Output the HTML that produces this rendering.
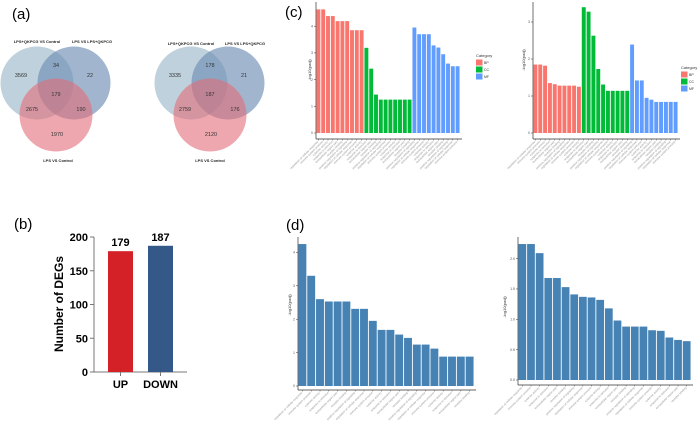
<!DOCTYPE html>
<html><head><meta charset="utf-8"><style>
html,body{margin:0;padding:0;background:#fff;}
svg{display:block;font-family:"Liberation Sans",sans-serif;}
</style></head><body>
<svg id="fig" width="700" height="429" viewBox="0 0 700 429" xmlns="http://www.w3.org/2000/svg">
<text x="12" y="19" font-size="15">(a)</text>
<text x="285" y="17" font-size="15">(c)</text>
<text x="14" y="229" font-size="15">(b)</text>
<text x="286" y="230" font-size="15">(d)</text>

<g>
<circle cx="37" cy="83" r="36.5" fill="#a9c2d2" fill-opacity="0.75"/>
<circle cx="74" cy="83" r="36.5" fill="#6f8fb3" fill-opacity="0.65"/>
<circle cx="56" cy="115" r="36.5" fill="#e36c78" fill-opacity="0.6"/>
<g font-size="4" font-weight="bold" fill="#222" text-anchor="middle">
<text x="37" y="43">LPS+QKPCG VS Control</text><text x="92" y="43">LPS VS LPS+QKPCG</text><text x="58" y="162">LPS VS Control</text></g>
<g font-size="5.5" fill="#333" text-anchor="middle">
<text x="21" y="77">3569</text><text x="56" y="67">34</text><text x="90" y="77">22</text><text x="56" y="96">179</text><text x="32" y="111">2675</text><text x="81" y="111">190</text><text x="57" y="136">1970</text></g>
</g>
<g>
<circle cx="191" cy="83" r="36.5" fill="#a9c2d2" fill-opacity="0.75"/>
<circle cx="228" cy="83" r="36.5" fill="#6f8fb3" fill-opacity="0.65"/>
<circle cx="210" cy="115" r="36.5" fill="#e36c78" fill-opacity="0.6"/>
<g font-size="4" font-weight="bold" fill="#222" text-anchor="middle">
<text x="191" y="45">LPS+QKPCG VS Control</text><text x="245" y="45">LPS VS LPS+QKPCG</text><text x="210" y="162">LPS VS Control</text></g>
<g font-size="5.5" fill="#333" text-anchor="middle">
<text x="175" y="77">3335</text><text x="210" y="67">178</text><text x="244" y="77">21</text><text x="210" y="96">187</text><text x="185" y="111">2759</text><text x="235" y="111">176</text><text x="211" y="136">2120</text></g>
</g>

<g id="panelB"></g>
<g id="panelC1"></g>
<g id="panelC2"></g>
<g id="panelD1"></g>
<g id="panelD2"></g>
</svg>
<script>
const degCategories = ["UP", "DOWN"];
const degValues = [179, 187];
const degTicks = [0, 50, 100, 150, 200];

const goCat = ["BP", "CC", "MF"];
const goLeftBP = [4.63, 4.63, 4.38, 4.38, 4.19, 4.19, 4.19, 3.85, 3.85, 3.85];
const goLeftCC = [3.19, 2.41, 1.44, 1.25, 1.25, 1.25, 1.25, 1.25, 1.25, 1.25];
const goLeftMF = [3.95, 3.7, 3.7, 3.7, 3.28, 3.2, 2.95, 2.6, 2.5, 2.5];
const goLeftTicks = [0, 1, 2, 3, 4];
const goRightBP = [1.85, 1.85, 1.82, 1.35, 1.32, 1.28, 1.28, 1.28, 1.28, 1.25];
const goRightCC = [3.4, 3.28, 2.63, 1.73, 1.31, 1.14, 1.14, 1.14, 1.14, 1.14];
const goRightMF = [2.39, 1.42, 1.42, 0.95, 0.9, 0.84, 0.84, 0.84, 0.84, 0.84];
const goRightTicks = [0, 1, 2, 3];

const keggLeft = [4.25, 3.3, 2.6, 2.53, 2.53, 2.53, 2.31, 2.31, 1.95, 1.68, 1.68, 1.54, 1.44, 1.24, 1.24, 1.12, 0.88, 0.88, 0.88, 0.88];
const keggLeftTicks = [0, 1, 2, 3, 4];
const keggRight = [2.24, 2.24, 2.09, 1.68, 1.68, 1.53, 1.41, 1.37, 1.36, 1.32, 1.18, 0.98, 0.88, 0.88, 0.88, 0.82, 0.81, 0.70, 0.66, 0.64];
const keggRightTicks = [0, 0.5, 1, 1.5, 2];

const NS = "http://www.w3.org/2000/svg";
function mk(parent, tag, attrs, text) {
  const e = document.createElementNS(NS, tag);
  for (const k in attrs) e.setAttribute(k, attrs[k]);
  if (text !== undefined) e.textContent = text;
  parent.appendChild(e);
  return e;
}

(function () {
  const g = document.getElementById("panelB");
  const x0 = 94, y0 = 372, yTop = 237, vmax = 200;
  const ys = v => y0 - (v / vmax) * (y0 - yTop);
  const ax = mk(g, "line", { x1: x0, y1: ys(200), x2: x0, y2: y0, stroke: "#777", "stroke-width": 1 });
  
  
  const xa = mk(g, "line", { x1: x0, y1: y0, x2: 187, y2: y0, stroke: "#777", "stroke-width": 1 });
  
  
  degTicks.forEach(t => {
    mk(g, "line", { x1: x0 - 4, y1: ys(t), x2: x0, y2: ys(t), stroke: "#777", "stroke-width": 1 });
    const tl = mk(g, "text", { x: x0 - 6, y: ys(t) + 4, "font-size": 11, "font-weight": "bold", "text-anchor": "end" }, t);
    
    
  });
  const colors = ["#d42027", "#345989"];
  const bw = 25, step = 40, first = 108;
  degValues.forEach((v, i) => {
    const x = first + i * step;
    const r = mk(g, "rect", { x: x, y: ys(v), width: bw, height: y0 - ys(v), fill: colors[i] });
    
    
    const vl = mk(g, "text", { x: x + bw / 2, y: ys(v) - 5, "font-size": 11, "font-weight": "bold", "text-anchor": "middle" }, v);
    
    
    mk(g, "line", { x1: x + bw / 2, y1: y0, x2: x + bw / 2, y2: y0 + 4, stroke: "#777", "stroke-width": 1 });
    const cl = mk(g, "text", { x: x + bw / 2, y: y0 + 16, "font-size": 11, "font-weight": "bold", "text-anchor": "middle" }, degCategories[i]);
    
    
  });
  const yt = mk(g, "text", { x: 0, y: 0, "font-size": 12, "font-weight": "bold", "text-anchor": "middle", transform: "translate(63,304) rotate(-90)" }, "Number  of DEGs");
  
  
})();

const termWords = ["regulation of cellular response", "immune system process", "cytokine activity", "response to stimulus", "extracellular region part", "receptor binding", "positive regulation of signaling"];

function ggBars(g, cfg) {
  const { x0, x1, y0, ppu, values, colors, ticks, axisY, top, titleX, titleY, tickFmt } = cfg;
  const n = values.length, bw = (x1 - x0) / n;
  const ys = v => y0 - v * ppu;
  const ya = mk(g, "line", { x1: x0, y1: top, x2: x0, y2: axisY, stroke: "#333", "stroke-width": 0.7 });
  
  
  const xa = mk(g, "line", { x1: x0, y1: axisY, x2: x1 + 2, y2: axisY, stroke: "#333", "stroke-width": 0.7 });
  
  
  ticks.forEach(t => {
    mk(g, "line", { x1: x0 - 2, y1: ys(t), x2: x0, y2: ys(t), stroke: "#333", "stroke-width": 0.5 });
    const tl = mk(g, "text", { x: x0 - 3, y: ys(t) + 1.2, "font-size": 3.5, fill: "#555", "text-anchor": "end" }, tickFmt ? t.toFixed(1) : t);
    
    
  });
  values.forEach((v, i) => {
    const x = x0 + i * bw;
    const r = mk(g, "rect", { x: x + 0.45, y: ys(v), width: bw - 0.9, height: v * ppu, fill: colors[i] });
    
    
    const cx = x + bw / 2;
    mk(g, "line", { x1: cx, y1: axisY, x2: cx, y2: axisY + 1.5, stroke: "#333", "stroke-width": 0.4 });
    const lab = mk(g, "text", { x: 0, y: 0, "font-size": 2.9, fill: "#999", "text-anchor": "end", transform: `translate(${cx},${axisY + 3}) rotate(-45)` }, termWords[i % termWords.length]);
    
    
  });
  const yt = mk(g, "text", { x: 0, y: 0, "font-size": 4, fill: "#333", "text-anchor": "middle", transform: `translate(${titleX},${titleY}) rotate(-90)` }, "-log10(padj)");
  
  
}

function legend(g, x, y) {
  const cols = ["#f8766d", "#00ba38", "#619cff"];
  const t = mk(g, "text", { x: x, y: y, "font-size": 4, fill: "#333" }, "Category");
  
  
  goCat.forEach((c, i) => {
    const r = mk(g, "rect", { x: x, y: y + 2.5 + i * 7, width: 6.5, height: 6, fill: cols[i] });
    
    
    const l = mk(g, "text", { x: x + 8, y: y + 7 + i * 7, "font-size": 3.5, fill: "#333" }, c);
    
    
  });
}

const goColors = (a, b, c) => a.map(() => "#f8766d").concat(b.map(() => "#00ba38"), c.map(() => "#619cff"));

ggBars(document.getElementById("panelC1"), {
  x0: 316, x1: 460, y0: 133, ppu: 26.7, axisY: 139, top: 2,
  values: goLeftBP.concat(goLeftCC, goLeftMF), colors: goColors(goLeftBP, goLeftCC, goLeftMF),
  ticks: goLeftTicks, titleX: 311, titleY: 70
});
legend(document.getElementById("panelC1"), 476, 57);

ggBars(document.getElementById("panelC2"), {
  x0: 533, x1: 678, y0: 133, ppu: 37, axisY: 139, top: 2,
  values: goRightBP.concat(goRightCC, goRightMF), colors: goColors(goRightBP, goRightCC, goRightMF),
  ticks: goRightTicks, titleX: 525, titleY: 60
});
legend(document.getElementById("panelC2"), 681, 69);

ggBars(document.getElementById("panelD1"), {
  x0: 298, x1: 474, y0: 386, ppu: 33.4, axisY: 390, top: 237,
  values: keggLeft, colors: keggLeft.map(() => "#4682b4"),
  ticks: keggLeftTicks, titleX: 291, titleY: 305
});
ggBars(document.getElementById("panelD2"), {
  x0: 518, x1: 691, y0: 380, ppu: 60.7, axisY: 385, top: 237,
  values: keggRight, colors: keggRight.map(() => "#4682b4"),
  ticks: keggRightTicks, titleX: 506, titleY: 307, tickFmt: true
});
</script>
</body></html>
